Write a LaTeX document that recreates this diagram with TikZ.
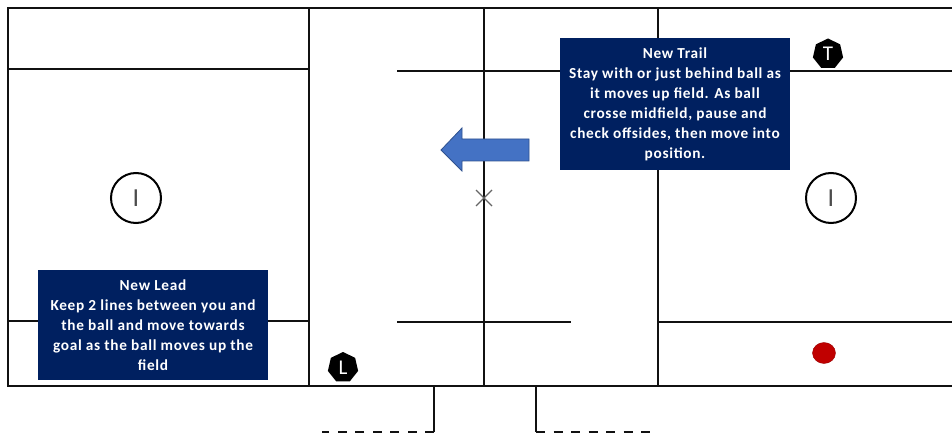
\documentclass[tikz,border=0pt]{standalone}
\usepackage{fontspec}
\setmainfont{Carlito}
\newfontfamily\boxfont[LetterSpace=4.5,BoldFont={Carlito Bold}]{Carlito}
\usetikzlibrary{shapes.geometric,shapes.arrows}
\definecolor{navy}{HTML}{002060}
\definecolor{arrowblue}{HTML}{4472C4}
\definecolor{arrowedge}{HTML}{2F528F}
\definecolor{ballred}{HTML}{C00000}
\definecolor{linecol}{HTML}{111111}
\tikzset{
  fieldline/.style={draw=linecol,line width=2.2pt},
  infobox/.style={fill=navy,text=white,inner sep=0pt,align=center,font=\boxfont\fontsize{15.3}{20}\selectfont\bfseries},
  ref/.style={regular polygon,regular polygon sides=7,fill=black,text=white,minimum size=31pt,inner sep=0pt,font=\fontsize{21}{21}\selectfont},
  facecircle/.style={circle,draw=black,line width=2pt,fill=white,minimum size=50pt,inner sep=0pt,font=\fontsize{26}{26}\selectfont\mdseries,text=black!70},
}
\begin{document}
\begin{tikzpicture}[x=1pt,y=-1pt]
\useasboundingbox (0,0) rectangle (952,435);
% frame
\coordinate (tl) at (8,8); \coordinate (tr) at (952,8);
\coordinate (bl) at (8,386); \coordinate (br) at (952,386);
\draw[fieldline] (tr) -- (tl) -- (bl) -- (br);
% vertical lines
\foreach \n/\x in {a/309,b/484,c/658}{
  \coordinate (\n t) at (\x,8); \coordinate (\n b) at (\x,386);
  \draw[fieldline] (\n t) -- (\n b);
}
% horizontal lines
\coordinate (h1a) at (8,69); \coordinate (h1b) at (309,69);
\coordinate (h2a) at (8,321); \coordinate (h2b) at (310,321);
\coordinate (h3a) at (397,71); \coordinate (h3b) at (952,71);
\coordinate (h4a) at (397,322); \coordinate (h4b) at (571,322);
\coordinate (h5a) at (659,322); \coordinate (h5b) at (952,322);
\draw[fieldline] (h1a) -- (h1b);
\draw[fieldline] (h2a) -- (h2b);
\draw[fieldline] (h3a) -- (h3b);
\draw[fieldline] (h4a) -- (h4b);
\draw[fieldline] (h5a) -- (h5b);
% bench / table lines
\coordinate (d1t) at (434,386); \coordinate (d1c) at (434,432); \coordinate (d1e) at (322,432);
\coordinate (d2t) at (536,386); \coordinate (d2c) at (536,432); \coordinate (d2e) at (650,432);
\draw[fieldline] (d1t) -- (d1c);
\draw[fieldline] (d2t) -- (d2c);
\draw[fieldline,dash pattern=on 9pt off 8.5pt] (d1c) -- (d1e);
\draw[fieldline,dash pattern=on 9pt off 8.5pt] (d2c) -- (d2e);
% centre X
\coordinate (x1) at (476,190); \coordinate (x2) at (492,206);
\coordinate (x3) at (476,206); \coordinate (x4) at (492,190);
\draw[black!60,line width=1.2pt] (x1) -- (x2) (x3) -- (x4);
% arrow
\draw[fill=arrowblue,draw=arrowedge,line width=0.8pt]
  (441,150) -- (462,128) -- (462,139) -- (529,139) -- (529,161) -- (462,161) -- (462,171) -- cycle;
% face-off circles
\node[facecircle] (cl) at (136,198) {I};
\node[facecircle] (cr) at (831,198) {I};
% referees
\node[ref] (trail) at (828,54) {T};
\node[ref] (lead) at (343,367.5) {L};
% ball
\node[ellipse,fill=ballred,draw=ballred!80!black,minimum width=23pt,minimum height=21pt,inner sep=0pt] (ball) at (824,353) {};
% boxes
\node[infobox,minimum width=230pt,minimum height=132pt] (trailbox) at (675,104)
  {New Trail\\Stay with or just behind ball as\\it moves up field.  As ball\\crosse midfield, pause and\\check offsides, then move into\\position.};
\node[infobox,minimum width=230pt,minimum height=110pt] (leadbox) at (153,325)
  {New Lead\\Keep 2 lines between you and\\the ball and move towards\\goal as the ball moves up the\\field};
\end{tikzpicture}
\end{document}
